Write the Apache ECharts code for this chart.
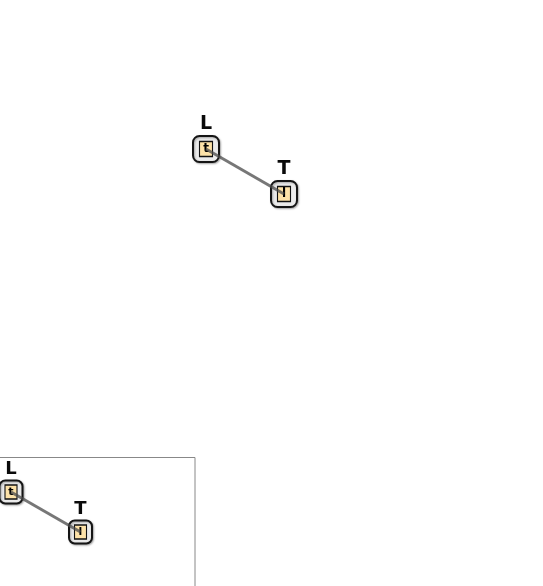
<!DOCTYPE html>
<html>
<head>
<meta charset="utf-8">
<script src="https://cdn.jsdelivr.net/npm/echarts@6/dist/echarts.min.js"></script>
<style>
  html, body { margin: 0; padding: 0; background: #fff; }
  #main { width: 543px; height: 586px; }
</style>
</head>
<body>
<div id="main"></div>
<script>
// nodes of the graph
var nodeNames = ['L', 'T'];
var nodeTags = ['t', 'l'];
var nodeX = [0, 78];
var nodeY = [0, 45];
// edges: [source, target]
var edgeList = [['L', 'T']];

var myChart = echarts.init(document.getElementById('main'));

function makeNodes() {
    var arr = [];
    for (var i = 0; i < nodeNames.length; i++) {
        arr.push({ name: nodeNames[i], tag: nodeTags[i], x: nodeX[i], y: nodeY[i] });
    }
    return arr;
}
function makeEdges() {
    var arr = [];
    for (var i = 0; i < edgeList.length; i++) {
        arr.push({ source: edgeList[i][0], target: edgeList[i][1] });
    }
    return arr;
}

// one view = outer box + inner box + edge on top
function viewSeries(box, outer, inner, titleSize, tagSize) {
    var base = {
        type: 'graph',
        layout: 'none',
        roam: false,
        animation: false,
        left: box.left, top: box.top, width: box.width, height: box.height
    };
    return [
        Object.assign({}, base, {
            z: 2,
            symbol: 'roundRect',
            symbolSize: outer,
            itemStyle: {
                color: '#ebebeb', borderColor: '#151515', borderWidth: 2,
                shadowColor: 'rgba(0,0,0,0.3)', shadowBlur: 2, shadowOffsetX: 1, shadowOffsetY: 1
            },
            label: {
                show: true, position: 'top', distance: 1,
                fontFamily: 'DejaVu Sans', fontWeight: 'bold', fontSize: titleSize, color: '#0a0a0a'
            },
            data: makeNodes(),
            links: []
        }),
        Object.assign({}, base, {
            z: 3,
            symbol: 'rect',
            symbolSize: inner,
            itemStyle: { color: '#fde2a8', borderColor: '#111', borderWidth: 1.2 },
            label: {
                show: true, position: 'inside',
                fontFamily: 'DejaVu Sans', fontWeight: 'bold', fontSize: tagSize, color: '#000',
                formatter: function (p) { return p.data.tag; }
            },
            data: makeNodes(),
            links: []
        }),
        Object.assign({}, base, {
            z: 4,
            symbolSize: 0,
            label: { show: false },
            lineStyle: { color: '#4a4a4a', width: 3, opacity: 0.75, curveness: 0 },
            data: makeNodes(),
            links: makeEdges()
        })
    ];
}

var series = [].concat(
    viewSeries({ left: 206, top: 149, width: 78, height: 45 }, 26, [13, 15], 19, 12),
    viewSeries({ left: 11, top: 492, width: 69.5, height: 40 }, 23, [12, 14], 18, 11)
);

myChart.setOption({
    backgroundColor: '#fff',
    graphic: [{
        type: 'rect',
        shape: { x: -1, y: 457.5, width: 196, height: 140 },
        style: { fill: 'none', stroke: '#888', lineWidth: 1 },
        z: 1
    }],
    series: series
});
</script>
</body>
</html>
